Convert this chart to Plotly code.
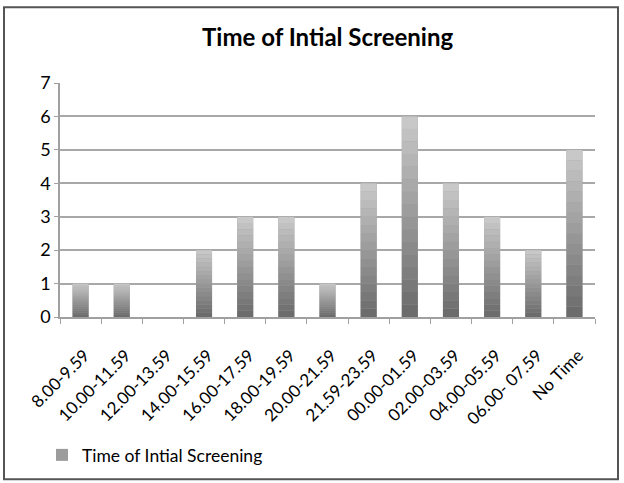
import plotly.graph_objects as go

categories = ["8.00-9.59", "10.00-11.59", "12.00-13.59", "14.00-15.59", "16.00-17.59",
              "18.00-19.59", "20.00-21.59", "21.59-23.59", "00.00-01.59", "02.00-03.59",
              "04.00-05.59", "06.00- 07.59", "No Time"]
values = [1, 1, 0, 2, 3, 3, 1, 4, 6, 4, 3, 2, 5]
series_name = "Time of Intial Screening"
y_ticks = [0, 1, 2, 3, 4, 5, 6, 7]

FONT = "Lato, 'Open Sans', sans-serif"
fig = go.Figure()

# main bars (legend entry)
fig.add_trace(go.Bar(x=categories, y=values, name=series_name,
                     marker=dict(color="#9c9c9c", line=dict(width=0)), width=0.39))

# gradient overlay: light at top, dark at bottom
N = 16
top = (200, 200, 200)
bot = (108, 108, 108)
for i in range(N):
    t = i / (N - 1)
    c = tuple(int(bot[k] + (top[k] - bot[k]) * t) for k in range(3))
    fig.add_trace(go.Bar(x=categories, y=[v / N for v in values],
                         base=[v * i / N for v in values],
                         marker=dict(color="rgb(%d,%d,%d)" % c, line=dict(width=0)),
                         width=0.39, showlegend=False, hoverinfo="skip"))

L, R, T, B = 60, 29, 83, 165
W, H = 624, 483
pw, ph = W - L - R, H - T - B

def px(x):
    return (x - L) / pw

def py(y):
    return (H - B - y) / ph

fig.add_shape(type="rect", xref="paper", yref="paper",
              x0=px(4), x1=px(618), y0=py(7), y1=py(481),
              line=dict(color="#555555", width=2), layer="below")

fig.update_layout(
    width=W, height=H, barmode="overlay",
    margin=dict(l=L, r=R, t=T, b=B),
    paper_bgcolor="white", plot_bgcolor="white",
    title=dict(text="<b>Time of Intial Screening</b>", x=0.525, xanchor="center",
               y=1 - 38 / H, yanchor="middle", yref="container",
               font=dict(family=FONT, size=24, color="black")),
    font=dict(family=FONT, color="black"),
    xaxis=dict(type="category", tickangle=-45, tickson="boundaries",
               ticks="outside", ticklen=5, tickcolor="#a0a0a0",
               showline=True, linecolor="#a0a0a0", linewidth=1.5,
               tickfont=dict(size=17, family=FONT, color="black"),
               ticklabelstandoff=20, ticklabelshift=4,
               showgrid=False, automargin=False),
    yaxis=dict(range=[0, 7], tickvals=y_ticks, ticks="outside", ticklen=4,
               tickcolor="#a0a0a0", showline=True, linecolor="#a0a0a0", linewidth=1.5,
               showgrid=True, gridcolor="#a8a8a8", gridwidth=1.5,
               tickfont=dict(size=18, family=FONT, color="black"), zeroline=False,
               automargin=False),
    legend=dict(orientation="h", x=px(42), y=py(455), xanchor="left", yanchor="middle",
                font=dict(size=17.5, family=FONT, color="black"), itemwidth=30),
    bargap=0.6,
)

fig.write_html("out.html", config={"displayModeBar": False},
               post_script="document.body.style.margin='0';")
